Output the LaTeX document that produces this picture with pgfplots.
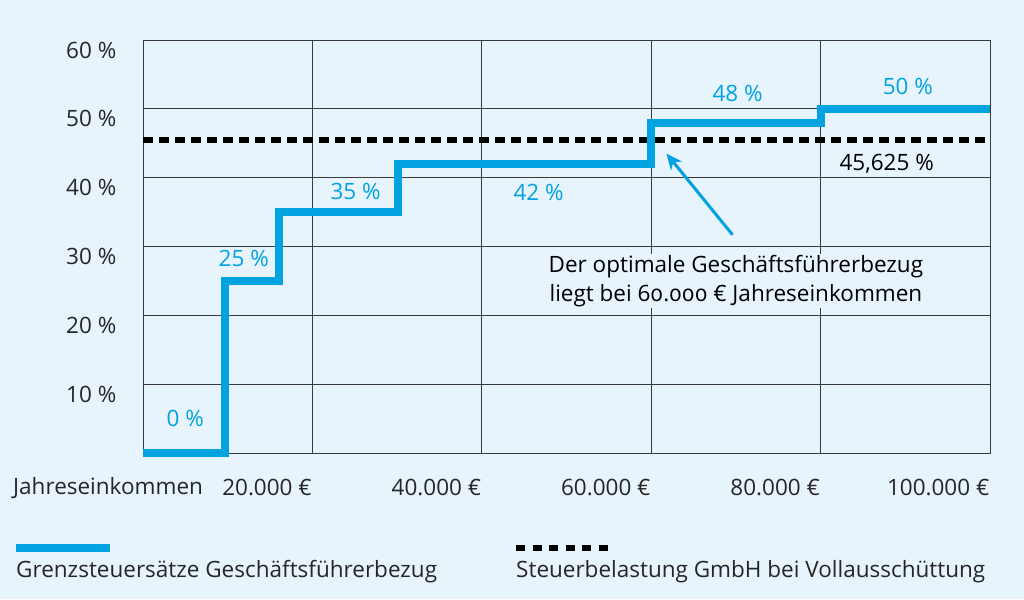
\documentclass[border=0pt]{standalone}
\usepackage{pgfplots}
\pgfplotsset{compat=1.18}
\usetikzlibrary{arrows.meta}
\usepackage{fontspec}
\setmainfont{Open Sans}
\definecolor{bgblue}{HTML}{E8F4FC}
\definecolor{lineblue}{HTML}{00A3E0}
\definecolor{gridgray}{HTML}{3A3A3A}
\begin{document}
\fontsize{22.5}{29}\selectfont
\begin{tikzpicture}
\fill[bgblue] (0pt,0pt) rectangle (1024pt,599pt);
\begin{axis}[
  at={(143pt,146pt)}, anchor=south west,
  scale only axis, width=847pt, height=413pt,
  xmin=0, xmax=100000, ymin=0, ymax=60,
  axis line style={gridgray, line width=0.9pt},
  grid=major,
  major grid style={gridgray, line width=0.9pt},
  major tick length=0pt,
  clip=false,
  scaled x ticks=false,
  xtick={20000,40000,60000,80000,100000},
  xticklabels={20.000 €,40.000 €,60.000 €,80.000 €,100.000 €},
  ytick={10,20,30,40,50,60},
  yticklabels={10 \%,20 \%,30 \%,40 \%,50 \%,60 \%},
  /pgf/number format/assume math mode=true,
  ticklabel style={font=\fontsize{22.5}{27}\selectfont, text=black!85},
  xticklabel style={anchor=east, xshift=7pt, yshift=-35pt},
  yticklabel style={anchor=east, xshift=-19pt, yshift=-10pt},
]
\addplot[black, line width=6pt, dash pattern=on 10pt off 6pt] coordinates {(0,45.4) (100000,45.4)};
\addplot[lineblue, line width=8pt, const plot, line join=miter] coordinates {
(0,0) (9700,25) (16000,35) (30100,42) (60000,48) (80000,50) (100000,50)
};
\node[text=lineblue] at (axis cs:5000,5) {0 \%};
\node[text=lineblue] at (axis cs:11900,28.3) {25 \%};
\node[text=lineblue] at (axis cs:25100,38.0) {35 \%};
\node[text=lineblue] at (axis cs:46700,37.9) {42 \%};
\node[text=lineblue] at (axis cs:70200,52.3) {48 \%};
\node[text=lineblue] at (axis cs:90300,53.2) {50 \%};
\node[text=black] at (axis cs:87800,42.0) {45,625 \%};
\draw[lineblue, line width=3pt, -{Stealth[length=16pt,width=14pt]}] (axis cs:69600,31.7) -- (axis cs:61800,43.5);
\node[align=center, text=black, fill=bgblue, inner sep=1pt] at (axis cs:70000,25.0) {Der optimale Geschäftsführerbezug\\liegt bei {\addfontfeatures{Numbers=OldStyle}60.000} € Jahreseinkommen};
\end{axis}
\node[anchor=west, text=black!85, inner sep=0pt] at (13pt,111pt) {Jahreseinkommen};
\draw[lineblue, line width=8pt] (16pt,51pt) -- (110pt,51pt);
\node[anchor=west, text=black!85, inner sep=0pt] at (16pt,27pt) {Grenzsteuersätze Geschäftsführerbezug};
\draw[black, line width=6pt, dash pattern=on 9pt off 7.5pt] (516pt,51pt) -- (608pt,51pt);
\node[anchor=west, text=black!85, inner sep=0pt] at (516pt,27pt) {Steuerbelastung GmbH bei Vollausschüttung};
\end{tikzpicture}
\end{document}
